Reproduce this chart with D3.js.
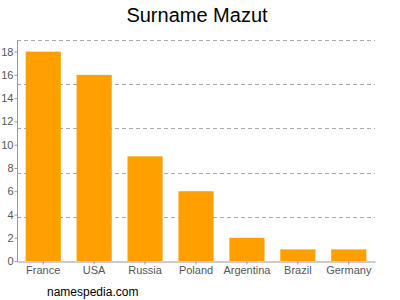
<!DOCTYPE html>
<html>
<head>
<meta charset="utf-8">
<script src="https://cdn.jsdelivr.net/npm/d3@7"></script>
<style>
body { margin: 0; background: #fff; }
svg { display: block; font-family: "Liberation Sans", Arial, sans-serif; }
</style>
</head>
<body>
<div id="chart"></div>
<script>
var countries = ["France", "USA", "Russia", "Poland", "Argentina", "Brazil", "Germany"];
var counts = [18, 16, 9, 6, 2, 1, 1];
var yTicks = [0, 2, 4, 6, 8, 10, 12, 14, 16, 18];
var gridValues = [3.8, 7.6, 11.4, 15.2, 19];

var width = 400, height = 300;
var plotLeft = 17, plotRight = 375, plotTop = 40, plotBottom = 261;

var svg = d3.select("#chart").append("svg")
    .attr("width", width)
    .attr("height", height);

svg.append("text")
    .attr("x", 197).attr("y", 22)
    .attr("text-anchor", "middle")
    .style("font-size", "20px")
    .attr("fill", "#000")
    .text("Surname Mazut");

var x = d3.scaleBand()
    .domain(countries)
    .range([plotLeft, plotRight])
    .paddingInner(0.31)
    .paddingOuter(0.17);

var y = d3.scaleLinear()
    .domain([0, 19])
    .range([plotBottom, plotTop]);

// dashed grid
svg.append("g")
  .selectAll("line")
  .data(gridValues)
  .enter()
  .append("line")
    .attr("x1", plotLeft).attr("x2", plotRight)
    .attr("y1", function(d) { return Math.round(y(d)) + 0.5; })
    .attr("y2", function(d) { return Math.round(y(d)) + 0.5; })
    .attr("stroke", "#aaa")
    .attr("stroke-dasharray", "4,3");

// bars
var data = countries.map(function(c, i) { return {name: c, value: counts[i]}; });
svg.append("g")
  .selectAll("rect")
  .data(data)
  .enter()
  .append("rect")
    .attr("x", function(d) { return x(d.name); })
    .attr("y", function(d) { return y(d.value); })
    .attr("width", x.bandwidth())
    .attr("height", function(d) { return y(0) - y(d.value); })
    .attr("fill", "#ffa000");

// y axis
var yAxis = svg.append("g")
    .attr("transform", "translate(" + (plotLeft + 0.5) + ",0)")
    .call(d3.axisLeft(y).tickValues(yTicks).tickSize(3).tickSizeOuter(0));
yAxis.select(".domain").attr("stroke", "#999").attr("d", "M0," + plotTop + "V" + plotBottom);
yAxis.selectAll(".tick line").attr("stroke", "#999");
yAxis.selectAll("text").attr("fill", "#555").style("font-size", "11px").attr("x", -4);

// x axis
var xAxis = svg.append("g")
    .attr("transform", "translate(0," + (plotBottom + 0.5) + ")")
    .call(d3.axisBottom(x).tickSize(3).tickSizeOuter(0));
xAxis.select(".domain").attr("stroke", "#999");
xAxis.selectAll(".tick line").attr("stroke", "#999");
xAxis.selectAll("text").attr("fill", "#555").style("font-size", "11px").attr("y", 5);

svg.append("text")
    .attr("x", 47).attr("y", 296)
    .style("font-size", "12px")
    .attr("fill", "#000")
    .text("namespedia.com");
</script>
</body>
</html>
